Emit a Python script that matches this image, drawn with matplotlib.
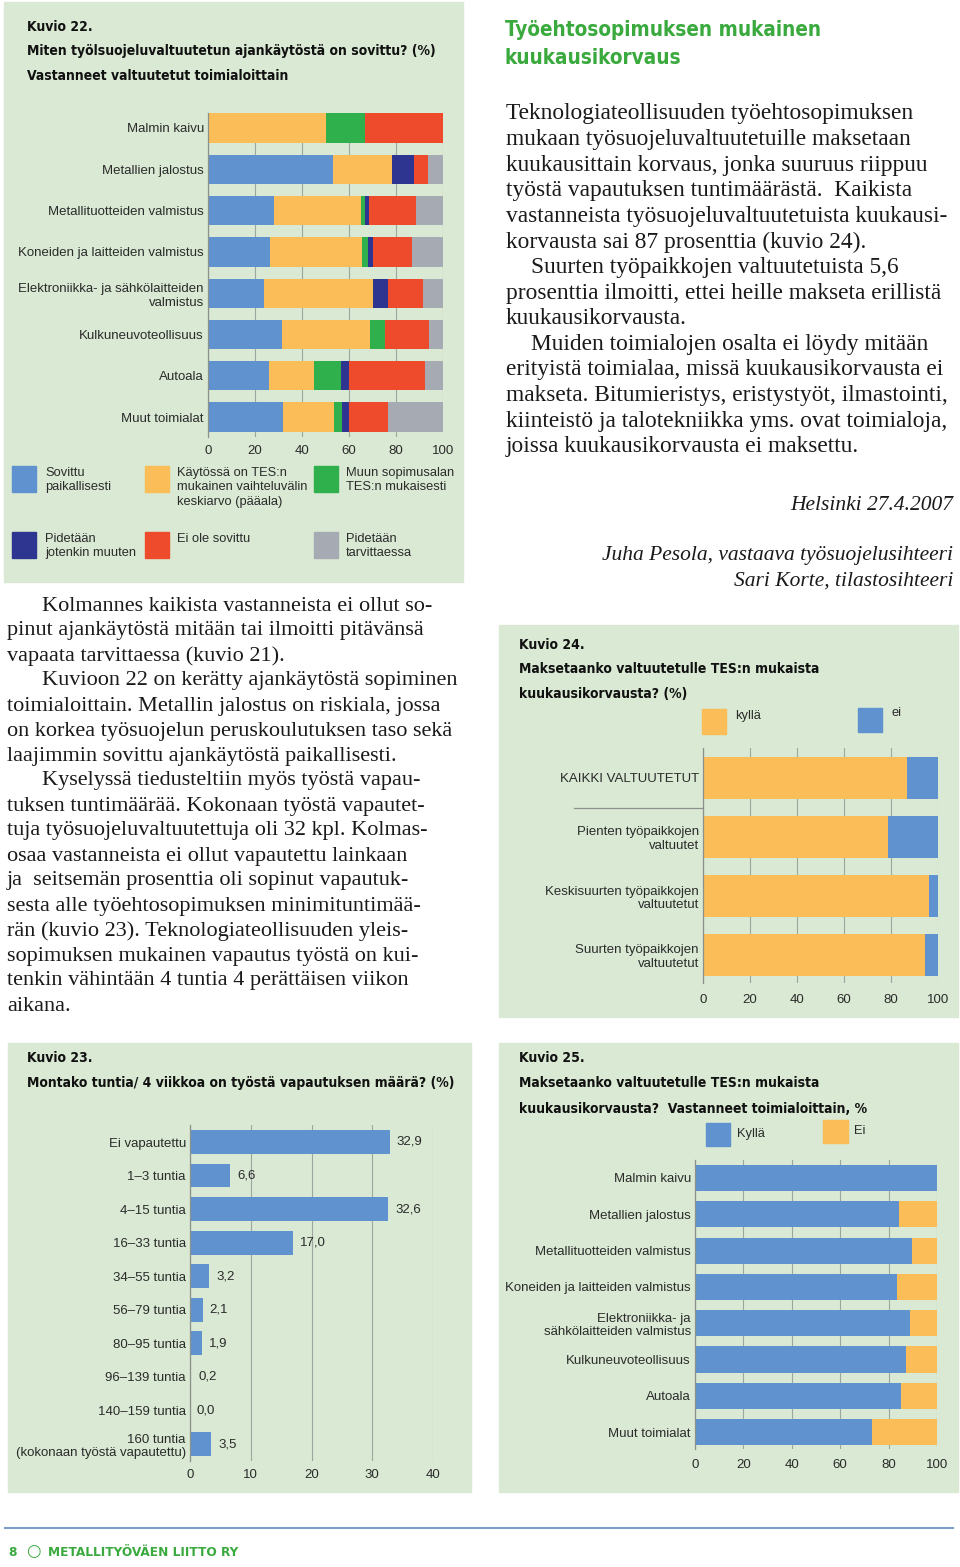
import matplotlib
matplotlib.use("Agg")
import matplotlib.pyplot as plt
from matplotlib import font_manager
from matplotlib.patches import Rectangle
from matplotlib.lines import Line2D
from matplotlib.transforms import blended_transform_factory

# ---- data -------------------------------------------------------------
# Kuvio 22
k22_rows = ["Malmin kaivu", "Metallien jalostus", "Metallituotteiden valmistus",
            "Koneiden ja laitteiden valmistus",
            "Elektroniikka- ja sähkölaitteiden\nvalmistus",
            "Kulkuneuvoteollisuus", "Autoala", "Muut toimialat"]
k22_series = ["Sovittu\npaikallisesti",
              "Käytössä on TES:n\nmukainen vaihteluvälin\nkeskiarvo (pääala)",
              "Muun sopimusalan\nTES:n mukaisesti",
              "Pidetään\njotenkin muuten", "Ei ole sovittu",
              "Pidetään\ntarvittaessa"]
sovittu = [0, 53.1, 28.0, 26.4, 23.9, 31.4, 25.8, 31.8]
tes_keskiarvo = [50.0, 25.1, 37.1, 39.0, 46.3, 37.5, 19.5, 21.7]
muun_tes = [17.0, 0, 1.6, 2.5, 0, 6.4, 11.1, 3.4]
jotenkin_muuten = [0, 9.4, 1.9, 2.4, 6.2, 0, 3.8, 3.3]
ei_sovittu = [33.0, 6.2, 20.0, 16.4, 15.0, 18.8, 32.0, 16.6]
tarvittaessa = [0, 6.2, 11.4, 13.3, 8.6, 5.9, 7.8, 23.2]

# Kuvio 23
k23_rows = ["Ei vapautettu", "1–3 tuntia", "4–15 tuntia", "16–33 tuntia",
            "34–55 tuntia", "56–79 tuntia", "80–95 tuntia", "96–139 tuntia",
            "140–159 tuntia", "160 tuntia\n(kokonaan työstä vapautettu)"]
k23_values = [32.9, 6.6, 32.6, 17.0, 3.2, 2.1, 1.9, 0.2, 0.0, 3.5]

# Kuvio 24
k24_rows = ["KAIKKI VALTUUTETUT", "Pienten työpaikkojen\nvaltuutet",
            "Keskisuurten työpaikkojen\nvaltuutetut",
            "Suurten työpaikkojen\nvaltuutetut"]
k24_kylla = [87.0, 78.9, 96.0, 94.4]
k24_ei = [13.0, 21.1, 4.0, 5.6]

# Kuvio 25
k25_rows = ["Malmin kaivu", "Metallien jalostus", "Metallituotteiden valmistus",
            "Koneiden ja laitteiden valmistus",
            "Elektroniikka- ja\nsähkölaitteiden valmistus",
            "Kulkuneuvoteollisuus", "Autoala", "Muut toimialat"]
k25_kylla = [100.0, 84.5, 89.8, 83.5, 88.7, 87.1, 85.1, 73.3]
k25_ei = [0.0, 15.5, 10.2, 16.5, 11.3, 12.9, 14.9, 26.7]

left_text = [
    (1, "Kolmannes kaikista vastanneista ei ollut so-"),
    (0, "pinut ajankäytöstä mitään tai ilmoitti pitävänsä"),
    (0, "vapaata tarvittaessa (kuvio 21)."),
    (1, "Kuvioon 22 on kerätty ajankäytöstä sopiminen"),
    (0, "toimialoittain. Metallin jalostus on riskiala, jossa"),
    (0, "on korkea työsuojelun peruskoulutuksen taso sekä"),
    (0, "laajimmin sovittu ajankäytöstä paikallisesti."),
    (1, "Kyselyssä tiedusteltiin myös työstä vapau-"),
    (0, "tuksen tuntimäärää. Kokonaan työstä vapautet-"),
    (0, "tuja työsuojeluvaltuutettuja oli 32 kpl. Kolmas-"),
    (0, "osaa vastanneista ei ollut vapautettu lainkaan"),
    (0, "ja  seitsemän prosenttia oli sopinut vapautuk-"),
    (0, "sesta alle työehtosopimuksen minimituntimää-"),
    (0, "rän (kuvio 23). Teknologiateollisuuden yleis-"),
    (0, "sopimuksen mukainen vapautus työstä on kui-"),
    (0, "tenkin vähintään 4 tuntia 4 perättäisen viikon"),
    (0, "aikana."),
]
right_text = [
    (0, "Teknologiateollisuuden työehtosopimuksen"),
    (0, "mukaan työsuojeluvaltuutetuille maksetaan"),
    (0, "kuukausittain korvaus, jonka suuruus riippuu"),
    (0, "työstä vapautuksen tuntimäärästä.  Kaikista"),
    (0, "vastanneista työsuojeluvaltuutetuista kuukausi-"),
    (0, "korvausta sai 87 prosenttia (kuvio 24)."),
    (1, "Suurten työpaikkojen valtuutetuista 5,6"),
    (0, "prosenttia ilmoitti, ettei heille makseta erillistä"),
    (0, "kuukausikorvausta."),
    (1, "Muiden toimialojen osalta ei löydy mitään"),
    (0, "erityistä toimialaa, missä kuukausikorvausta ei"),
    (0, "makseta. Bitumieristys, eristystyöt, ilmastointi,"),
    (0, "kiinteistö ja talotekniikka yms. ovat toimialoja,"),
    (0, "joissa kuukausikorvausta ei maksettu."),
]

# ---- style ------------------------------------------------------------
BG = "#d9e9d3"
BLUE = "#5f92cf"
YELLOW = "#fbbd57"
GREEN = "#2fb04c"
NAVY = "#2d3590"
RED = "#ee4b2d"
GRAY = "#a5aab3"
GRID = "#9ea59e"
TXT = "#2b2b2b"
HEAD_GREEN = "#3aaa3e"

names = {f.name for f in font_manager.fontManager.ttflist}
if "Liberation Sans Narrow" in names:
    HEAD = dict(family=["Liberation Sans Narrow", "DejaVu Sans"], weight="bold")
    hs = 1.1
elif any(f.name == "DejaVu Sans" and "condensed" in str(f.stretch) for f in font_manager.fontManager.ttflist):
    HEAD = dict(family=["DejaVu Sans"], weight="bold", stretch="condensed")
    hs = 1.0
else:
    HEAD = dict(family=["Roboto", "DejaVu Sans"], weight="bold")
    hs = 1.0

SANS = ["Liberation Sans", "DejaVu Sans"]
SERIF = ["Liberation Serif", "DejaVu Serif"]
plt.rcParams["font.family"] = SANS

W, H = 960, 1567
fig = plt.figure(figsize=(W / 100, H / 100), dpi=100)
fig.patch.set_facecolor("white")


def txt(x, y, s, **kw):
    kw.setdefault("va", "center")
    return fig.text(x / W, 1 - y / H, s, **kw)


def panel(x0, y0, x1, y1):
    fig.add_artist(Rectangle((x0 / W, 1 - y1 / H), (x1 - x0) / W, (y1 - y0) / H,
                             transform=fig.transFigure, color=BG, zorder=0))


def make_ax(x0, x1, top, bottom, c0, step, xmax, xstep, xpad, ypad=3):
    ax = fig.add_axes([x0 / W, 1 - bottom / H, (x1 - x0) / W, (bottom - top) / H])
    ax.set_facecolor("none")
    ax.set_xlim(0, xmax)
    ax.set_xticks(range(0, xmax + 1, xstep))
    ax.set_ylim((bottom - c0) / step, (top - c0) / step)
    for s in ["top", "right", "bottom"]:
        ax.spines[s].set_visible(False)
    ax.spines["left"].set_color("#8c918c")
    ax.spines["left"].set_linewidth(0.9)
    ax.grid(axis="x", color=GRID, linewidth=0.8)
    ax.set_axisbelow(True)
    ax.tick_params(axis="both", length=0, labelsize=9.5, colors=TXT)
    ax.tick_params(axis="x", pad=xpad)
    ax.tick_params(axis="y", pad=ypad)
    return ax


def title(x, ys, lines, size=10.0):
    for y, s in zip(ys, lines):
        txt(x, y, s, fontsize=size * hs, color="#111111", **HEAD)


# ---- Kuvio 22 ---------------------------------------------------------
panel(4, 2, 463, 582)
title(27, [27, 51, 76], ["Kuvio 22.",
                         "Miten työlsuojeluvaltuutetun ajankäytöstä on sovittu? (%)",
                         "Vastanneet valtuutetut toimialoittain"])
ax = make_ax(208, 443, 113, 437, 128, 41.3, 100, 20, 5.5)
k22_data = [sovittu, tes_keskiarvo, muun_tes, jotenkin_muuten, ei_sovittu, tarvittaessa]
k22_colors = [BLUE, YELLOW, GREEN, NAVY, RED, GRAY]
ypos = range(len(k22_rows))
left = [0] * len(k22_rows)
for vals, col in zip(k22_data, k22_colors):
    ax.barh(ypos, vals, left=left, height=0.71, color=col, linewidth=0)
    left = [a + b for a, b in zip(left, vals)]
ax.set_yticks(list(ypos))
ax.set_yticklabels(k22_rows, fontsize=9.5)

# legend of kuvio 22
leg_x = [(12, 45), (145, 177), (314, 346)]
leg_y = [466, 532]
for i, (lab, col) in enumerate(zip(k22_series, k22_colors)):
    sx, tx = leg_x[i % 3]
    sy = leg_y[i // 3]
    fig.add_artist(Rectangle((sx / W, 1 - (sy + 26) / H), 24 / W, 26 / H,
                             transform=fig.transFigure, color=col))
    txt(tx, sy + 1, lab, va="top", fontsize=9.3, color=TXT, linespacing=1.25)

# ---- left body text ---------------------------------------------------
for i, (ind, line) in enumerate(left_text):
    txt(7 + 35 * ind, 606 + 25 * i, line, fontsize=16.0, family=SERIF, color="#1a1a1a")

# ---- right column text ------------------------------------------------
txt(505, 30, "Työehtosopimuksen mukainen", fontsize=14.9 * hs, color=HEAD_GREEN, **HEAD)
txt(505, 58, "kuukausikorvaus", fontsize=14.9 * hs, color=HEAD_GREEN, **HEAD)
for i, (ind, line) in enumerate(right_text):
    txt(506 + 25 * ind, 114 + 25.6 * i, line, fontsize=16.8, family=SERIF, color="#1a1a1a")
txt(953, 506, "Helsinki 27.4.2007", ha="right", fontsize=15.5, family=SERIF,
    style="italic", color="#1a1a1a")
txt(953, 556, "Juha Pesola, vastaava työsuojelusihteeri", ha="right", fontsize=15.5,
    family=SERIF, style="italic", color="#1a1a1a")
txt(953, 581, "Sari Korte, tilastosihteeri", ha="right", fontsize=15.5,
    family=SERIF, style="italic", color="#1a1a1a")

# ---- Kuvio 24 ---------------------------------------------------------
panel(499, 625, 958, 1017)
title(519, [645, 669, 694], ["Kuvio 24.", "Maksetaanko valtuutetulle TES:n mukaista",
                             "kuukausikorvausta? (%)"])
ax = make_ax(703, 938, 748, 983, 778, 59, 100, 20, 8)
ypos = range(len(k24_rows))
ax.barh(ypos, k24_kylla, height=0.71, color=YELLOW, linewidth=0)
ax.barh(ypos, k24_ei, left=k24_kylla, height=0.71, color=BLUE, linewidth=0)
ax.set_yticks(list(ypos))
ax.set_yticklabels(k24_rows, fontsize=9.5)
tr = blended_transform_factory(ax.transAxes, ax.transData)
ax.plot([-0.55, 0], [0.5, 0.5], transform=tr, color="#8c918c", lw=0.9, clip_on=False)
fig.add_artist(Rectangle((702 / W, 1 - 734 / H), 24 / W, 25 / H,
                         transform=fig.transFigure, color=YELLOW))
txt(735, 716, "kyllä", fontsize=9.3, color=TXT)
fig.add_artist(Rectangle((858 / W, 1 - 732 / H), 24 / W, 24 / H,
                         transform=fig.transFigure, color=BLUE))
txt(891, 713, "ei", fontsize=9.3, color=TXT)

# ---- Kuvio 23 ---------------------------------------------------------
panel(8, 1043, 471, 1492)
title(27, [1058, 1083], ["Kuvio 23.",
                         "Montako tuntia/ 4 viikkoa on työstä vapautuksen määrä? (%)"])
ax = make_ax(190, 433, 1125, 1461, 1142, 33.56, 40, 10, 6)
ypos = list(range(len(k23_rows)))
bars = ax.barh(ypos, k23_values, height=0.71, color=BLUE, linewidth=0)
ax.bar_label(bars, labels=[f"{v:.1f}".replace(".", ",") for v in k23_values],
             padding=5, fontsize=9.5, color=TXT)
ax.set_yticks(ypos)
ax.set_yticklabels(k23_rows, fontsize=9.5)

# ---- Kuvio 25 ---------------------------------------------------------
panel(499, 1043, 958, 1492)
title(519, [1058, 1083, 1109], ["Kuvio 25.", "Maksetaanko valtuutetulle TES:n mukaista",
                                "kuukausikorvausta?  Vastanneet toimialoittain, %"])
ax = make_ax(695, 937, 1160, 1449, 1178, 36.29, 100, 20, 7)
ypos = list(range(len(k25_rows)))
ax.barh(ypos, k25_kylla, height=0.72, color=BLUE, linewidth=0)
ax.barh(ypos, k25_ei, left=k25_kylla, height=0.72, color=YELLOW, linewidth=0)
ax.set_yticks(ypos)
ax.set_yticklabels(k25_rows, fontsize=9.5)
fig.add_artist(Rectangle((706 / W, 1 - 1146 / H), 24 / W, 23 / H,
                         transform=fig.transFigure, color=BLUE))
txt(737, 1134, "Kyllä", fontsize=9.3, color=TXT)
fig.add_artist(Rectangle((823 / W, 1 - 1143 / H), 25 / W, 23 / H,
                         transform=fig.transFigure, color=YELLOW))
txt(854, 1131, "Ei", fontsize=9.3, color=TXT)

# ---- footer -----------------------------------------------------------
fig.add_artist(Line2D([5 / W, 953 / W], [1 - 1528 / H, 1 - 1528 / H],
                      transform=fig.transFigure, color="#7d9ec9", lw=1.5))
txt(8, 1552, "8", fontsize=9.7 * hs, color=HEAD_GREEN, **HEAD)
txt(26, 1551, "○", fontsize=12, color=HEAD_GREEN, family=["DejaVu Sans"])
txt(48, 1552, "METALLITYÖVÄEN LIITTO RY", fontsize=9.7 * hs, color=HEAD_GREEN, **HEAD)

fig.savefig("out.png", dpi=100)
